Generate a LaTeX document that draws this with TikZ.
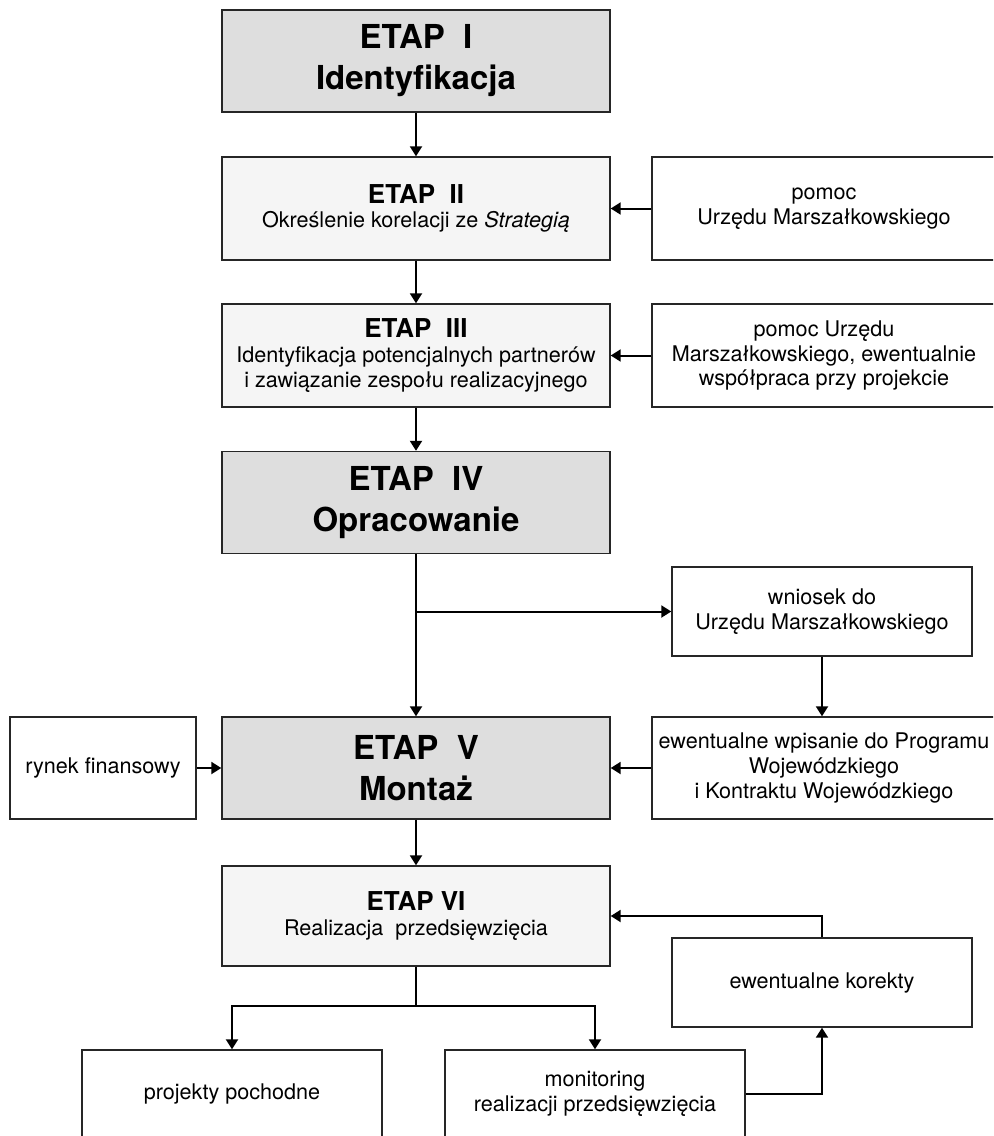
\documentclass[tikz,border=0pt]{standalone}
\usepackage{fontspec}
\setmainfont{TeX Gyre Heros}
\usetikzlibrary{arrows.meta}
\definecolor{stagegray}{HTML}{DEDEDE}
\definecolor{stagelight}{HTML}{F5F5F5}
\newcommand{\stagehead}[1]{{\fontsize{13}{12.4}\selectfont\bfseries #1}}
\begin{document}
\begin{tikzpicture}[x=0.5pt,y=-0.5pt,
  box/.style={draw=black!85, line width=0.7pt, align=center, inner sep=0pt,
    font=\fontsize{10.8}{12.4}\selectfont},
  bigstage/.style={box, fill=stagegray, font=\fontsize{16.5}{20.5}\selectfont\bfseries,
    minimum width=194pt, minimum height=51pt},
  stage/.style={box, fill=stagelight, minimum width=194pt, minimum height=51.5pt},
  sidebox/.style={box, fill=white, minimum width=172pt, minimum height=51.5pt},
  midbox/.style={box, fill=white, minimum width=150pt, minimum height=44.5pt},
  conn/.style={line width=1pt, -{Triangle[length=5pt,width=6pt]}},
  plainline/.style={line width=1pt}]
\useasboundingbox (0,0) rectangle (993,1136);
\clip (0,0) rectangle (993,1136);

\node[bigstage] (e1) at (416,61) {ETAP~~I\\Identyfikacja};
\node[stage] (e2) at (416,208.5) {\stagehead{ETAP~~II}\\Określenie korelacji ze \textit{Strategią}};
\node[sidebox] (p1) at (824,208.5) {pomoc\\Urzędu Marszałkowskiego};
\node[stage] (e3) at (416,355.5) {\stagehead{ETAP~~III}\\Identyfikacja potencjalnych partnerów\\i zawiązanie zespołu realizacyjnego};
\node[sidebox] (p2) at (824,355.5) {pomoc Urzędu\\Marszałkowskiego, ewentualnie\\współpraca przy projekcie};
\node[bigstage] (e4) at (416,502.5) {ETAP~~IV\\Opracowanie};
\node[midbox] (w) at (822,611.5) {wniosek do\\Urzędu Marszałkowskiego};
\node[bigstage] (e5) at (416,768) {ETAP~~V\\Montaż};
\node[box, fill=white, minimum width=93pt, minimum height=51pt] (r) at (103,768) {rynek finansowy};
\node[sidebox, minimum height=51pt] (wp) at (824,768) {ewentualne wpisanie do Programu\\Wojewódzkiego\\i Kontraktu Wojewódzkiego};
\node[stage, minimum height=50pt] (e6) at (416,916) {\stagehead{ETAP VI}\\Realizacja~~przedsięwzięcia};
\node[midbox] (k) at (822,982.5) {ewentualne korekty};
\node[midbox, minimum height=44pt] (pp) at (232,1094) {projekty pochodne};
\node[midbox, minimum height=44pt] (m) at (595,1094) {monitoring\\realizacji przedsięwzięcia};

\draw[conn] (e1.south) -- (e2.north);
\draw[conn] (p1.west) -- (e2.east);
\draw[conn] (e2.south) -- (e3.north);
\draw[conn] (p2.west) -- (e3.east);
\draw[conn] (e3.south) -- (e4.north);
\draw[conn] (e4.south) -- (e5.north);
\coordinate (j1) at (e4.south |- w.west);
\draw[conn] (j1) -- (w.west);
\draw[conn] (w.south) -- (w.south |- wp.north);
\draw[conn] (wp.west) -- (e5.east);
\draw[conn] (r.east) -- (e5.west);
\draw[conn] (e5.south) -- (e6.north);
\coordinate (j2) at (416,1006);
\draw[plainline] (e6.south) -- (j2);
\draw[conn] (j2) -| (pp.north);
\draw[conn] (j2) -| (m.north);
\draw[conn] (m.east) -| (k.south);
\draw[conn] (k.north) |- (e6.east);
\end{tikzpicture}
\end{document}
